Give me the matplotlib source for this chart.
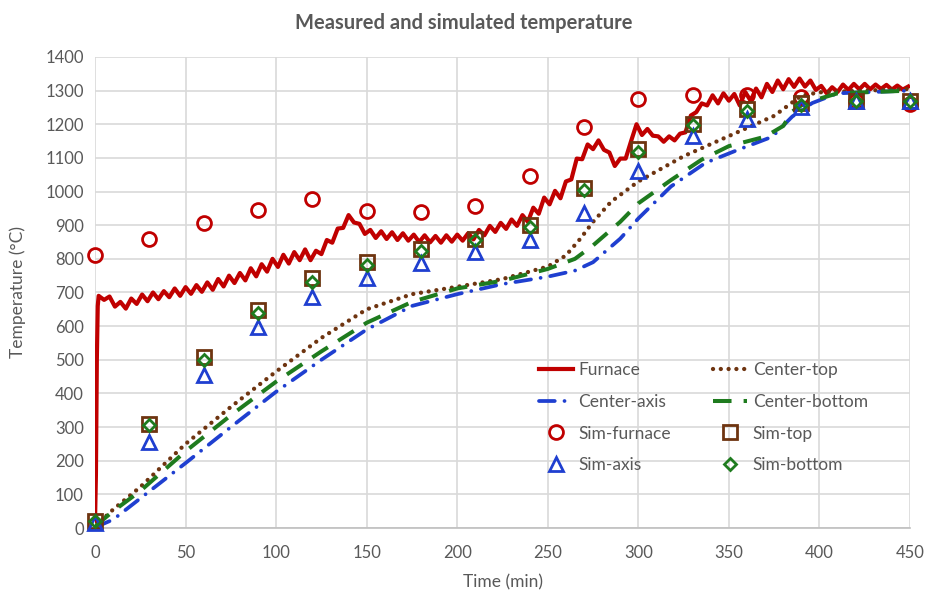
import matplotlib
matplotlib.use("Agg")
import matplotlib.pyplot as plt

plt.rcParams['font.family'] = ['Lato', 'DejaVu Sans']

# ---------------- data ----------------
furnace_t = [0, 0.5, 1.0, 1.5] + list(range(2, 451, 3))
furnace_T = [20, 160, 500, 660,
             690, 678, 688, 658, 672, 652, 682, 666, 694, 674,
             700, 680, 704, 686, 712, 690, 716, 696, 722, 702,
             730, 708, 740, 718, 750, 728, 758, 736, 772, 748,
             784, 762, 800, 776, 812, 786, 820, 796, 828, 796,
             824, 814, 856, 848, 890, 892, 930, 908, 904, 874,
             886, 862, 882, 859, 879, 856, 876, 854, 872, 850,
             870, 849, 868, 848, 870, 851, 872, 854, 876, 858,
             886, 870, 898, 880, 907, 889, 917, 898, 930, 910,
             952, 934, 982, 962, 1002, 980, 1030, 1036, 1098, 1096,
             1140, 1126, 1152, 1124, 1116, 1076, 1098, 1098, 1150, 1200,
             1168, 1186, 1166, 1164, 1148, 1164, 1152, 1172, 1176, 1226,
             1236, 1262, 1256, 1286, 1262, 1292, 1270, 1290, 1256, 1296,
             1270, 1306, 1280, 1320, 1296, 1330, 1304, 1334, 1311, 1336,
             1312, 1330, 1302, 1314, 1292, 1310, 1296, 1318, 1302, 1320,
             1304, 1320, 1304, 1318, 1305, 1317, 1303, 1315, 1303, 1312]

top_t = [0, 10, 25, 50, 75, 100, 125, 150, 175, 200, 225, 250, 260, 268,
         275, 285, 300, 325, 350, 375, 390, 400, 425, 450]
top_T = [5, 55, 122, 250, 360, 465, 565, 650, 695, 717, 740, 777, 810, 860,
         910, 970, 1030, 1105, 1165, 1225, 1285, 1295, 1300, 1305]

bottom_t = [0, 10, 25, 50, 75, 100, 125, 150, 175, 200, 225, 250, 265, 275,
            290, 300, 318, 335, 350, 370, 380, 385, 392, 410, 450]
bottom_T = [5, 50, 110, 228, 335, 435, 525, 610, 672, 712, 735, 770, 800, 840,
            910, 965, 1034, 1095, 1135, 1163, 1195, 1238, 1263, 1292, 1300]

axis_t = [0, 10, 25, 50, 75, 100, 125, 150, 175, 200, 225, 250, 265, 275,
          290, 300, 318, 337, 355, 374, 385, 396, 410, 450]
axis_T = [2, 25, 88, 193, 300, 405, 500, 590, 660, 695, 725, 747, 765, 790,
          860, 920, 1015, 1085, 1124, 1163, 1223, 1263, 1292, 1300]

sim_t = [0, 30, 60, 90, 120, 150, 180, 210, 240, 270, 300, 330, 360, 390, 420, 450]
sim_furnace = [810, 858, 906, 945, 977, 942, 938, 958, 1045, 1193, 1276, 1288, 1288, 1280, 1270, 1260]
sim_top = [20, 310, 508, 648, 742, 792, 828, 858, 900, 1010, 1125, 1200, 1245, 1262, 1270, 1270]
sim_axis = [15, 255, 455, 598, 688, 742, 788, 820, 855, 935, 1060, 1165, 1215, 1250, 1268, 1268]
sim_bottom = [20, 305, 498, 638, 730, 782, 822, 855, 895, 1005, 1118, 1198, 1240, 1258, 1268, 1268]

x_ticks = [0, 50, 100, 150, 200, 250, 300, 350, 400, 450]
y_ticks = [0, 100, 200, 300, 400, 500, 600, 700, 800, 900, 1000, 1100, 1200, 1300, 1400]

# ---------------- plot ----------------
RED = '#c00000'
BROWN = '#6e3410'
BLUE = '#1f3fd0'
GREEN = '#1e7b1e'
TXT = '#595959'

fig = plt.figure(figsize=(9.28, 5.94), dpi=100)
ax = fig.add_axes([0.1024, 0.1111, 0.8782, 0.793])

h_furn, = ax.plot(furnace_t, furnace_T, color=RED, lw=3.0, label='Furnace', zorder=3)
h_top, = ax.plot(top_t, top_T, color=BROWN, lw=3.1, linestyle=(0, (0.01, 1.8)),
                 dash_capstyle='round', label='Center-top', zorder=3)
h_axis, = ax.plot(axis_t, axis_T, color=BLUE, lw=2.7, linestyle=(0, (4.2, 2.6, 0.01, 2.6)),
                  dash_capstyle='round', label='Center-axis', zorder=3)
h_bot, = ax.plot(bottom_t, bottom_T, color=GREEN, lw=2.9, linestyle=(0, (4.6, 3.0)),
                 label='Center-bottom', zorder=3)

h_sf, = ax.plot(sim_t, sim_furnace, linestyle='none', marker='o', ms=10, mfc='none',
                mec=RED, mew=2, label='Sim-furnace', zorder=4, clip_on=False)
h_st, = ax.plot(sim_t, sim_top, linestyle='none', marker='s', ms=10, mfc='none',
                mec=BROWN, mew=2, label='Sim-top', zorder=4, clip_on=False)
h_sa, = ax.plot(sim_t, sim_axis, linestyle='none', marker='^', ms=10, mfc='none',
                mec=BLUE, mew=2, label='Sim-axis', zorder=4, clip_on=False)
h_sb, = ax.plot(sim_t, sim_bottom, linestyle='none', marker='D', ms=6.5, mfc='none',
                mec=GREEN, mew=2, label='Sim-bottom', zorder=5, clip_on=False)

ax.set_xlim(0, 450)
ax.set_ylim(0, 1400)
ax.set_xticks(x_ticks)
ax.set_yticks(y_ticks)
ax.grid(True, color='#d9d9d9', lw=1.2, zorder=0)
ax.set_axisbelow(True)
for s in ['top', 'right', 'left']:
    ax.spines[s].set_visible(False)
ax.spines['bottom'].set_color('#bfbfbf')
ax.spines['bottom'].set_linewidth(1.2)
ax.tick_params(axis='x', length=0, labelsize=12, colors=TXT, pad=12)
ax.tick_params(axis='y', length=0, labelsize=12, colors=TXT, pad=8)

ax.set_xlabel('Time (min)', fontsize=12.5, color=TXT, labelpad=10)
ax.set_ylabel('Temperature (°C)', fontsize=12.5, color=TXT, labelpad=14)
fig.suptitle('Measured and simulated temperature', fontsize=14.5, fontweight='bold',
             color=TXT, y=0.978)

handles = [h_furn, h_axis, h_sf, h_sa, h_top, h_bot, h_st, h_sb]
leg = ax.legend(handles=handles, labels=[h.get_label() for h in handles], ncol=2,
                loc='upper left', bbox_to_anchor=(0.525, 0.385), frameon=False,
                fontsize=12.5, handlelength=2.0, handletextpad=0.3,
                columnspacing=2.4, labelspacing=0.9, labelcolor=TXT)

fig.savefig('out.png', dpi=100)
